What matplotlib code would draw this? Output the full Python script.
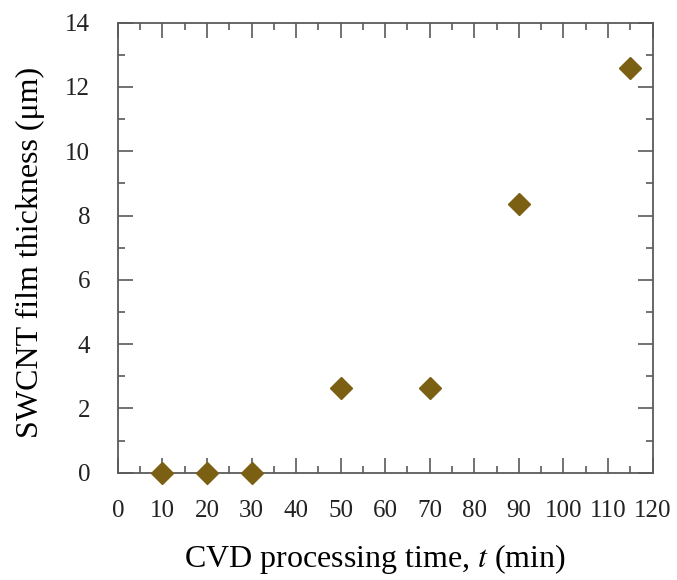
import matplotlib.pyplot as plt
from matplotlib.ticker import MultipleLocator

# CVD processing time (min) and SWCNT film thickness (um)
time_min = [10, 20, 30, 50, 70, 90, 115]
thickness_um = [0.0, 0.0, 0.0, 2.65, 2.65, 8.37, 12.6]

plt.rcParams['font.family'] = ['Liberation Serif', 'DejaVu Serif']
plt.rcParams['mathtext.fontset'] = 'stix'

fig = plt.figure(figsize=(6.77, 5.80), dpi=100)
ax = fig.add_axes([0.174, 0.185, 0.790, 0.776])

ax.plot(time_min, thickness_um, linestyle='none', marker='D', markersize=11,
        color='#7b5f12', markeredgecolor='#7b5f12', clip_on=False, zorder=3)

ax.set_xlim(0, 120)
ax.set_ylim(0, 14)
ax.xaxis.set_major_locator(MultipleLocator(10))
ax.xaxis.set_minor_locator(MultipleLocator(5))
ax.yaxis.set_major_locator(MultipleLocator(2))
ax.yaxis.set_minor_locator(MultipleLocator(1))

spine_col = '#5a5a5a'
for s in ax.spines.values():
    s.set_color(spine_col)
    s.set_linewidth(1.3)
ax.tick_params(which='both', direction='in', top=True, right=True,
               color=spine_col, width=1.2, labelsize=18, labelcolor='#222222')
ax.tick_params(which='major', length=11)
ax.tick_params(axis='x', which='major', pad=20)
ax.tick_params(axis='y', which='major', pad=20)
ax.tick_params(which='minor', length=5)

ax.set_xlabel('CVD processing time, $\\mathit{t}$ (min)', fontsize=23)
ax.set_ylabel('SWCNT film thickness (\u03bcm)', fontsize=23)
ax.xaxis.set_label_coords(0.48, -0.209)
ax.xaxis.label.set_va('baseline')
ax.yaxis.set_label_coords(-0.164, 0.49)
ax.yaxis.label.set_va('center')

fig.savefig('out.png', dpi=100)
